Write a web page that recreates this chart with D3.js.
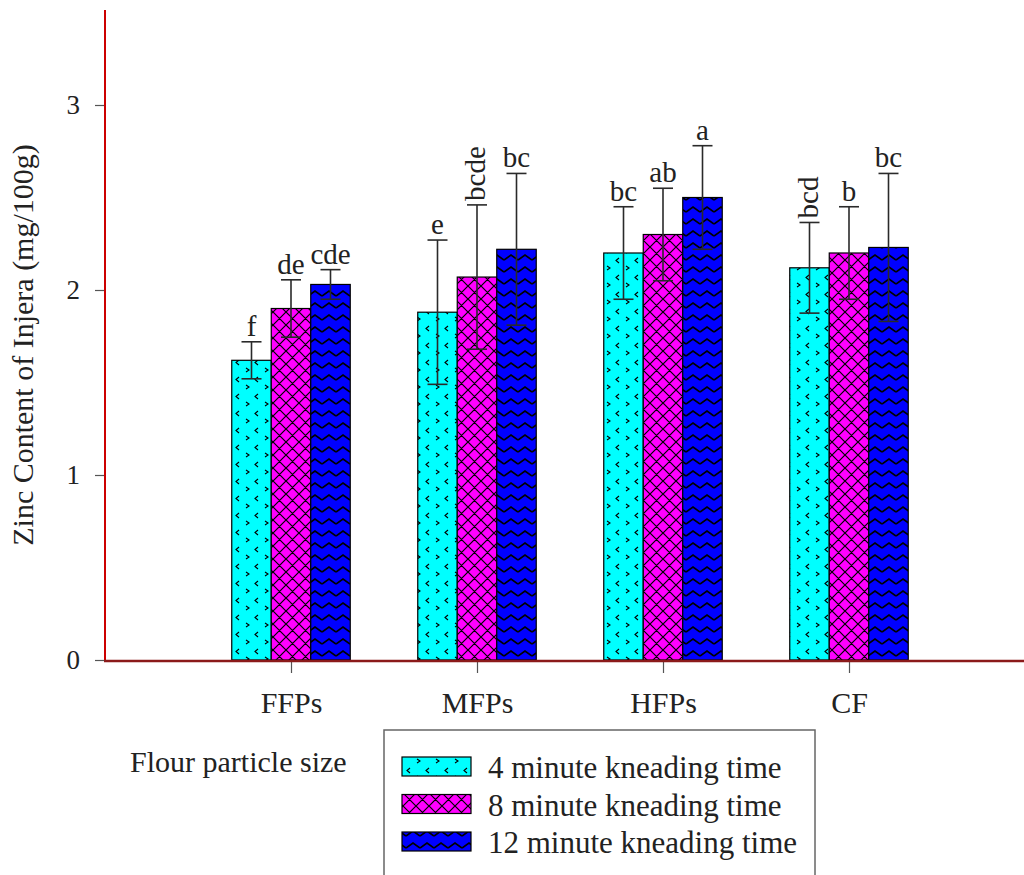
<!DOCTYPE html>
<html><head><meta charset="utf-8">
<script src="https://cdn.jsdelivr.net/npm/d3@7"></script>
<style>body{margin:0;background:#fff}svg{display:block}text{font-family:"Liberation Serif","Times New Roman",serif;fill:#222}</style>
</head><body><svg id="c" width="1024" height="875"></svg>
<script>
const categories = ["FFPs","MFPs","HFPs","CF"];
const seriesNames = ["4 minute kneading time","8 minute kneading time","12 minute kneading time"];
const values4 = [1.62, 1.88, 2.20, 2.12];
const values8 = [1.90, 2.07, 2.30, 2.20];
const values12 = [2.03, 2.22, 2.50, 2.23];
const err4 = [0.10, 0.39, 0.25, 0.245];
const err8 = [0.155, 0.39, 0.25, 0.25];
const err12 = [0.08, 0.41, 0.28, 0.40];
const letters4 = ["f","e","bc","bcd"];
const letters8 = ["de","bcde","ab","b"];
const letters12 = ["cde","bc","a","bc"];
const yTicks = [0,1,2,3];
const xTitle = "Flour particle size";
const yTitle = "Zinc Content of Injera (mg/100g)";

const svg = d3.select("#c");
const defs = svg.append("defs");

// pattern: cyan with chevrons
const p1 = defs.append("pattern").attr("id","pat0").attr("patternUnits","userSpaceOnUse").attr("width",19).attr("height",17).attr("x",232).attr("y",0);
p1.append("rect").attr("width",19).attr("height",17).attr("fill","#00ffff");
p1.append("path").attr("d","M7,3 L4,5.5 L7,8").attr("stroke","#000").attr("stroke-width",1.1).attr("fill","none");
p1.append("path").attr("d","M14,11 L17,13 L14,15").attr("stroke","#000").attr("stroke-width",1.1).attr("fill","none");
// pattern: magenta crosshatch
const p2 = defs.append("pattern").attr("id","pat1").attr("patternUnits","userSpaceOnUse").attr("width",13).attr("height",13);
p2.append("rect").attr("width",13).attr("height",13).attr("fill","#ff00ff");
p2.append("path").attr("d","M0,0 L13,13 M13,0 L0,13 M-1,12 L1,14 M12,-1 L14,1 M-1,1 L1,-1 M12,14 L14,12").attr("stroke","#000").attr("stroke-width",1.2);
// pattern: blue zigzag
const p3 = defs.append("pattern").attr("id","pat2").attr("patternUnits","userSpaceOnUse").attr("width",14).attr("height",12);
p3.append("rect").attr("width",14).attr("height",12).attr("fill","#0000ff");
p3.append("path").attr("d","M0,8 L7,3 L14,8").attr("stroke","#000").attr("stroke-width",1.6).attr("fill","none");

const y = d3.scaleLinear().domain([0,3.5]).range([660,12.5]);
const x = d3.scaleLinear().domain([0,5]).range([105,1035]);
const barW = 39.5;

const series = [
  {vals: values4, errs: err4, letters: letters4},
  {vals: values8, errs: err8, letters: letters8},
  {vals: values12, errs: err12, letters: letters12}
];

// bars
series.forEach((s,si)=>{
  const g = svg.append("g");
  categories.forEach((c,ci)=>{
    const cx = x(ci+1) + (si-1)*barW;
    g.append("rect").attr("x",cx-barW/2).attr("y",y(s.vals[ci])).attr("width",barW).attr("height",y(0)-y(s.vals[ci]))
      .attr("fill",`url(#pat${si})`).attr("stroke","#000").attr("stroke-width",1.2);
  });
});
// error bars and letters
series.forEach((s,si)=>{
  categories.forEach((c,ci)=>{
    const cx = x(ci+1) + (si-1)*barW;
    const top = y(s.vals[ci]+s.errs[ci]), bot = y(s.vals[ci]-s.errs[ci]);
    svg.append("line").attr("x1",cx).attr("x2",cx).attr("y1",top).attr("y2",bot).attr("stroke","#2a2a2a").attr("stroke-width",1.6);
    [top,bot].forEach(yy=>svg.append("line").attr("x1",cx-10).attr("x2",cx+10).attr("y1",yy).attr("y2",yy).attr("stroke","#2a2a2a").attr("stroke-width",1.6));
    const L = s.letters[ci];
    if (L.length>=3 && L!=="cde") {
      svg.append("text").attr("transform",`translate(${cx+8},${top-4}) rotate(-90)`).attr("font-size",29).text(L);
    } else {
      svg.append("text").attr("x",cx).attr("y",top-6).attr("text-anchor","middle").attr("font-size",29).text(L);
    }
  });
});

// axes
const yAxis = svg.append("g").attr("transform","translate(105,0)")
  .call(d3.axisLeft(y).tickValues(yTicks).tickFormat(d3.format("d")).tickSize(10).tickPadding(15));
yAxis.select(".domain").remove();
yAxis.selectAll(".tick line").attr("stroke","#555").attr("stroke-width",1.2);
yAxis.selectAll(".tick text").attr("font-size",27).attr("font-family","Liberation Serif").attr("fill","#222");
svg.append("line").attr("x1",105).attr("x2",105).attr("y1",10).attr("y2",661).attr("stroke","#cc0000").attr("stroke-width",2);

const xAxis = svg.append("g").attr("transform","translate(0,661)")
  .call(d3.axisBottom(x).tickValues([1,2,3,4]).tickFormat(d=>categories[d-1]).tickSize(12).tickPadding(19));
xAxis.select(".domain").remove();
xAxis.selectAll(".tick line").attr("stroke","#555").attr("stroke-width",1.2);
xAxis.selectAll(".tick text").attr("font-size",30).attr("font-family","Liberation Serif").attr("fill","#222");
svg.append("line").attr("x1",104).attr("x2",1024).attr("y1",661).attr("y2",661).attr("stroke","#8b1a1a").attr("stroke-width",2.5);

svg.append("text").attr("transform","translate(33,345) rotate(-90)").attr("text-anchor","middle").attr("font-size",30).text(yTitle);
svg.append("text").attr("x",130).attr("y",772).attr("font-size",30).text(xTitle);

// legend
svg.append("rect").attr("x",384).attr("y",730).attr("width",431).attr("height",160).attr("fill","#fff").attr("stroke","#666").attr("stroke-width",1.5);
seriesNames.forEach((n,i)=>{
  const yy = 757 + i*37.5;
  svg.append("rect").attr("x",402).attr("y",yy).attr("width",69).attr("height",19).attr("fill",`url(#pat${i})`).attr("stroke","#000").attr("stroke-width",1.2);
  svg.append("text").attr("x",488).attr("y",yy+21).attr("font-size",31).text(n);
});
</script></body></html>
